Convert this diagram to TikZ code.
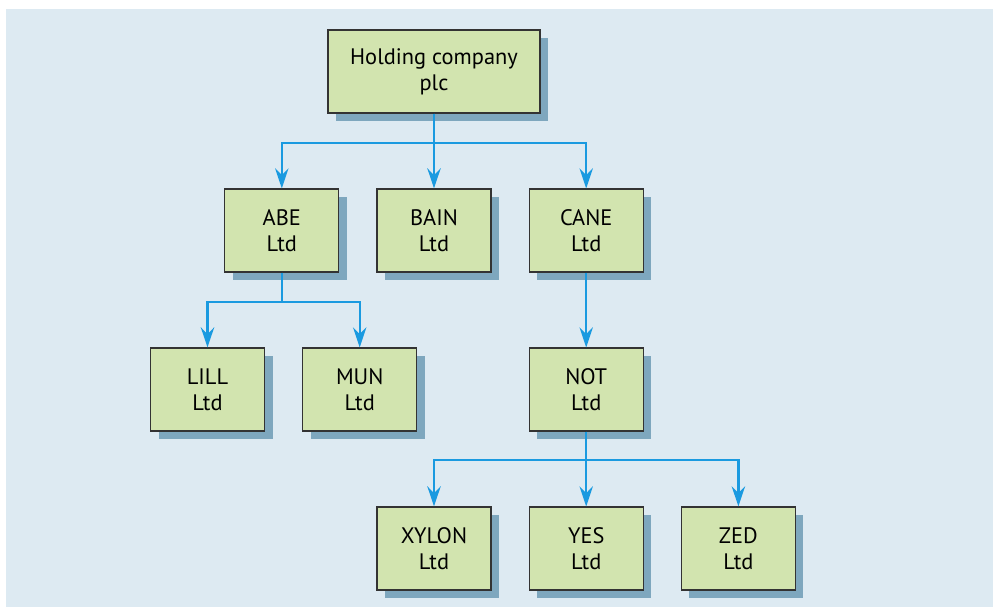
\documentclass[tikz,border=0pt]{standalone}
\usepackage{fontspec}
\setmainfont{PT Sans}
\usetikzlibrary{positioning, arrows.meta, shadows}

\begin{document}
\begin{tikzpicture}[x=0.75pt,y=-0.75pt]
        \definecolor{bgblue}{HTML}{DDEAF2}
        \definecolor{boxgreen}{HTML}{D2E4AF}
        \definecolor{shadowblue}{HTML}{7EA7BE}
        \definecolor{linkblue}{HTML}{1A9AE0}
        \tikzset{
            company/.style={draw=black!80, fill=boxgreen, line width=0.9pt,
                minimum width=85.5pt, minimum height=62.25pt, align=center,
                font=\fontsize{16.8}{19.5}\selectfont,
                general shadow={fill=shadowblue, shadow xshift=6pt, shadow yshift=-6pt}},
            link/.style={draw=linkblue, line width=1.8pt,
                -{Stealth[length=15pt, width=10pt, inset=5pt]}}
        }
        \useasboundingbox (0,0) rectangle (993,607);
        \fill[white] (0,0) rectangle (993,607);
        \fill[bgblue] (6,9) rectangle (993,607);

        % top
        \node[company, minimum width=159pt] (holding) at (434,71.5) {Holding company\\plc};

        % first level
        \node[company] (bain) at (434,230.5) {BAIN\\Ltd};
        \node[company, left=27.75pt of bain] (abe) {ABE\\Ltd};
        \node[company, right=27.75pt of bain] (cane) {CANE\\Ltd};

        % second level
        \node[company] (lill) at (207.5,389.5) {LILL\\Ltd};
        \node[company, right=27.75pt of lill] (mun) {MUN\\Ltd};
        \node[company] (not) at (cane.center |- 0,389.5) {NOT\\Ltd};

        % third level
        \node[company] (yes) at (not.center |- 0,548.5) {YES\\Ltd};
        \node[company, left=27.75pt of yes] (xylon) {XYLON\\Ltd};
        \node[company, right=27.75pt of yes] (zed) {ZED\\Ltd};

        \coordinate (bar1) at (holding.south |- 0,143);
        \coordinate (bar2) at (abe.south |- 0,302);
        \coordinate (bar3) at (not.south |- 0,460);

        \draw[link] (holding.south) -- (bain.north);
        \draw[link] (holding.south) -- (bar1) -| (abe.north);
        \draw[link] (holding.south) -- (bar1) -| (cane.north);

        \draw[link] (abe.south) -- (bar2) -| (lill.north);
        \draw[link] (abe.south) -- (bar2) -| (mun.north);

        \draw[link] (cane.south) -- (not.north);

        \draw[link] (not.south) -- (yes.north);
        \draw[link] (not.south) -- (bar3) -| (xylon.north);
        \draw[link] (not.south) -- (bar3) -| (zed.north);
\end{tikzpicture}
\end{document}
